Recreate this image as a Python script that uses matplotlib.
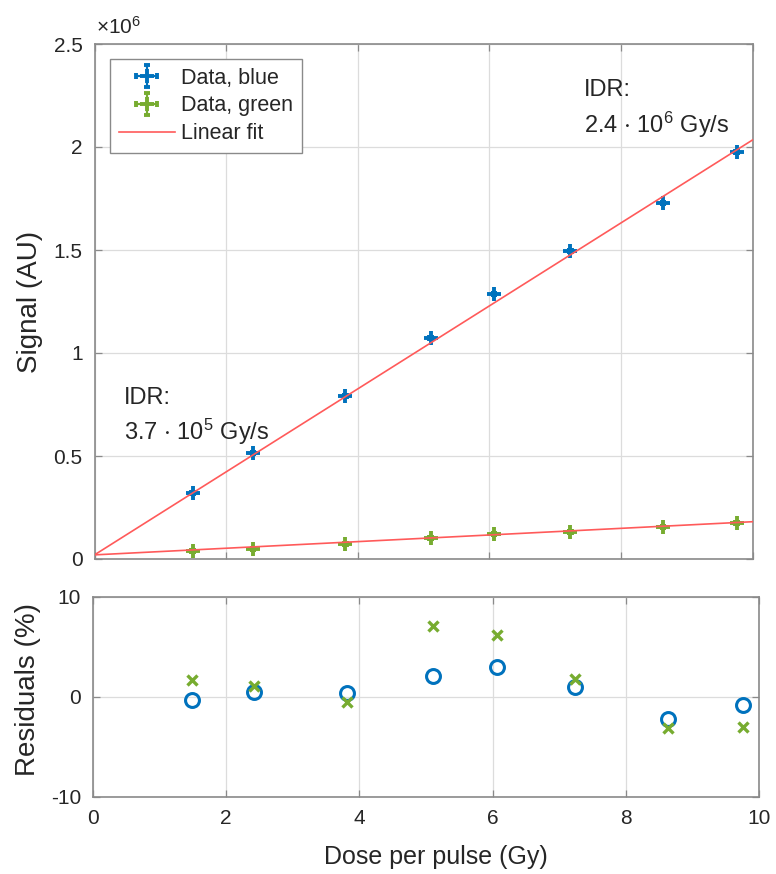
import numpy as np
import matplotlib.pyplot as plt
from matplotlib.ticker import FuncFormatter

plt.rcParams['font.family'] = ['Liberation Sans', 'DejaVu Sans']
plt.rcParams['mathtext.default'] = 'regular'
plt.rcParams['axes.unicode_minus'] = False

# dose per pulse (Gy)
dose = [1.49, 2.41, 3.81, 5.11, 6.07, 7.23, 8.64, 9.76]
dose_err = [0.02, 0.02, 0.02, 0.02, 0.02, 0.02, 0.02, 0.02]

# signal, units of 1e6 AU
sig_blue = [0.32, 0.515, 0.79, 1.073, 1.286, 1.495, 1.728, 1.976]
sig_green = [0.039, 0.049, 0.073, 0.102, 0.121, 0.131, 0.155, 0.175]
sig_err = [0.006, 0.006, 0.006, 0.006, 0.006, 0.006, 0.006, 0.006]

# linear fits, endpoints
fit_x = [0, 10]
fit_blue = [0.02, 2.034]
fit_green = [0.02, 0.181]

# residuals (%)
res_blue = [-0.3, 0.5, 0.45, 2.1, 3.05, 1.0, -2.15, -0.8]
res_green = [1.7, 1.1, -0.5, 7.1, 6.2, 1.8, -3.05, -3.0]

blue = '#0072BD'
green = '#77AC30'
red = '#FF5A5A'
spine_col = '#8a8a8a'
txt_col = '#262626'

fig = plt.figure(figsize=(7.76, 8.74), dpi=100)
ax = fig.add_axes([94.5 / 776, 1 - 559 / 874, 658 / 776, 515 / 874])
ax2 = fig.add_axes([93 / 776, 1 - 797 / 874, 666 / 776, 200 / 874])


def style(a):
    for s in a.spines.values():
        s.set_color(spine_col)
        s.set_linewidth(1.2)
    a.tick_params(direction='in', top=True, right=True, length=5, width=0.9,
                  color=spine_col, labelcolor=txt_col, labelsize=15, pad=8.5)
    a.grid(True, color='#dcdcdc', linewidth=0.9)
    a.set_axisbelow(True)


# top panel
eb1 = ax.errorbar(dose, sig_blue, xerr=dose_err, yerr=sig_err, fmt='+', color=blue,
                  ms=10, mew=2.8, elinewidth=1.6, capsize=2, capthick=1.6,
                  label='Data, blue', zorder=3)
eb2 = ax.errorbar(dose, sig_green, xerr=dose_err, yerr=sig_err, fmt='+', color=green,
                  ms=10, mew=2.8, elinewidth=1.6, capsize=2, capthick=1.6,
                  label='Data, green', zorder=3)
fl, = ax.plot(fit_x, fit_blue, color=red, lw=1.2, label='Linear fit', zorder=4)
ax.plot(fit_x, fit_green, color=red, lw=1.2, zorder=4)

ax.set_xlim(0, 10)
ax.set_ylim(0, 2.5)
ax.set_xticks(np.arange(0, 11, 2))
ax.set_yticks(np.arange(0, 2.51, 0.5))
ax.yaxis.set_major_formatter(FuncFormatter(lambda v, p: '%g' % v))
style(ax)
ax.tick_params(labelbottom=False)

ax.text(0.003, 1.013, r'$\times$10$^6$', transform=ax.transAxes,
        ha='left', va='bottom', fontsize=15, color=txt_col)

ax.text(0.45, 0.78, 'IDR:', fontsize=17, color=txt_col, va='center')
ax.text(0.45, 0.617, r'3.7 $\cdot$ 10$^5$ Gy/s', fontsize=17, color=txt_col, va='center')
ax.text(7.44, 2.277, 'IDR:', fontsize=17, color=txt_col, va='center')
ax.text(7.44, 2.107, r'2.4 $\cdot$ 10$^6$ Gy/s', fontsize=17, color=txt_col, va='center')

leg = ax.legend([eb1, eb2, fl], ['Data, blue', 'Data, green', 'Linear fit'],
                loc='upper left', bbox_to_anchor=(0.0236, 0.971), borderaxespad=0,
                fontsize=15.5, fancybox=False, edgecolor=spine_col, framealpha=1,
                handlelength=2.6, handletextpad=0.3, labelspacing=0.32,
                borderpad=0.4)
leg.get_frame().set_linewidth(1.0)
for t in leg.get_texts():
    t.set_color(txt_col)

# residual panel
ax2.plot(dose, res_blue, 'o', color=blue, mfc='none', ms=10, mew=2.2, zorder=3)
ax2.plot(dose, res_green, 'x', color=green, ms=6.5, mew=2.4, zorder=3)
ax2.set_xlim(0, 10)
ax2.set_ylim(-10, 10)
ax2.set_xticks(np.arange(0, 11, 2))
ax2.set_yticks([-10, 0, 10])
style(ax2)

fig.text(30 / 776, 1 - 302 / 874, 'Signal (AU)', rotation=90, ha='center',
         va='center', fontsize=20, color=txt_col)
fig.text(28 / 776, 1 - 690 / 874, 'Residuals (%)', rotation=90, ha='center',
         va='center', fontsize=20, color=txt_col)
fig.text(436 / 776, 1 - 857 / 874, 'Dose per pulse (Gy)', ha='center',
         va='center', fontsize=18, color=txt_col)

fig.savefig('out.png', dpi=100)
